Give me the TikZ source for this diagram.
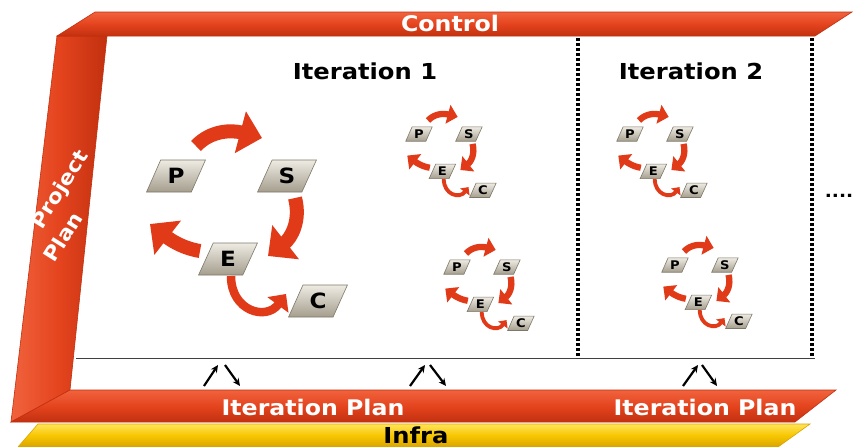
\documentclass[tikz,border=0pt]{standalone}
\usepackage{fontspec}
\setmainfont{DejaVu Sans}[FakeStretch=1.1]
\usetikzlibrary{shapes.geometric,arrows.meta}
\definecolor{barred}{HTML}{E4441E}
\definecolor{barlight}{HTML}{F0633D}
\definecolor{bardark}{HTML}{C2300F}
\definecolor{arrred}{HTML}{E03A18}
\definecolor{infrayel}{HTML}{F7C600}
\definecolor{infralight}{HTML}{FFE45A}
\definecolor{infradark}{HTML}{D9A400}
\definecolor{boxtop}{HTML}{EEEBE3}
\definecolor{boxbot}{HTML}{A59E8E}
\definecolor{boxedge}{HTML}{7E7868}
\newcommand\letterfs{21}
\tikzset{
 blk/.style={trapezium, trapezium left angle=63, trapezium right angle=117,
   trapezium stretches=true, minimum width=59pt, minimum height=32pt, inner sep=0pt,
   top color=boxtop, bottom color=boxbot, draw=boxedge, line width=0.6pt,
   font=\fontsize{\letterfs}{\letterfs}\selectfont\bfseries, text=black},
 cyc/.style={draw=arrred, -{Triangle[width=0pt 3, length=0pt 1.6]}},
 bartext/.style={text=white, font=\fontsize{21.5}{24}\selectfont\bfseries, inner sep=0pt},
 ptext/.style={text=white, font=\fontsize{20}{24}\selectfont\bfseries, inner sep=0pt, rotate=58},
 titletext/.style={text=black, font=\fontsize{22}{24}\selectfont\bfseries, inner sep=0pt},
 dotline/.style={draw=black, line width=3.5pt, dash pattern=on 3pt off 2pt},
 sarr/.style={draw=black, line width=2.2pt, -{Stealth[length=7.5pt, width=7pt]}},
}
\newcommand\PSECcycle[4]{%
\begin{scope}[shift={(#2,#3)}, scale=#4, transform shape]
 \pgfmathsetlengthmacro\lwA{14*#4}
 \pgfmathsetlengthmacro\lwB{8.5*#4}
 \pgfmathsetmacro\letterfs{21+(1-#4)*10}
 \coordinate (#1a1) at (20,-30);  \coordinate (#1a2) at (86,-38);
 \coordinate (#1b1) at (119,22);  \coordinate (#1b2) at (92,80);
 \coordinate (#1c1) at (24,75);   \coordinate (#1c2) at (-26,48);
 \coordinate (#1d1) at (55,100);  \coordinate (#1d2) at (110,118);
 \draw[cyc, line width=\lwA] (#1a1) .. controls (35,-46) and (56,-46) .. (#1a2);
 \draw[cyc, line width=\lwA] (#1b1) .. controls (125,45) and (115,62) .. (#1b2);
 \draw[cyc, line width=\lwA] (#1c1) .. controls (5,72) and (-8,62) .. (#1c2);
 \draw[cyc, line width=\lwB] (#1d1) .. controls (55,135) and (90,145) .. (#1d2);
 \node[blk] (#1P) at (0,0) {P};
 \node[blk] (#1S) at (111,0) {S};
 \node[blk] (#1E) at (52,83) {E};
 \node[blk] (#1C) at (142,125) {C};
\end{scope}}
\begin{document}
\begin{tikzpicture}[x=1pt,y=-1pt]
\useasboundingbox[fill=white] (0,0) rectangle (855,447);
% Infra bar
\path[draw=infradark, line width=0.6pt, top color=infralight, bottom color=infradark, middle color=infrayel]
  (38,424) -- (810,424) -- (778,447) -- (18,447) -- cycle;
% Project plan (vertical) + iteration plan (horizontal) bar
\path[draw=bardark, line width=0.6pt, left color=barlight, right color=bardark, middle color=barred]
  (57,36) -- (107,36) -- (70,390) -- (11,422) -- cycle;
\path[draw=bardark, line width=0.6pt, top color=barlight, bottom color=bardark, middle color=barred]
  (70,390) -- (836,390) -- (795,422) -- (11,422) -- cycle;
% Control bar
\path[draw=bardark, line width=0.6pt, top color=barlight, bottom color=bardark, middle color=barred]
  (95,12) -- (852,12) -- (815,36) -- (57,36) -- cycle;
% panel lines
\draw[black!75, line width=0.8pt] (76,358) -- (815,358);
\draw[dotline] (578,38) -- (578,358);
\draw[dotline] (812,38) -- (812,358);
% texts
\node[bartext] (ctl) at (450,23) {Control};
\node[bartext] (ip1) at (313,407) {Iteration Plan};
\node[bartext] (ip2) at (705,407) {Iteration Plan};
\node[titletext] (infra) at (416,435) {Infra};
\node[ptext] (pp1) at (61,190) {Project};
\node[ptext] (pp2) at (63,237) {Plan};
\node[titletext] (it1) at (365,71) {Iteration 1};
\node[titletext] (it2) at (691,71) {Iteration 2};
\node[inner sep=0pt, font=\fontsize{17}{17}\selectfont\bfseries] (dots) at (839,195.5) {....};
% cycles
\PSECcycle{A}{176}{176}{1}
\PSECcycle{B}{419}{134}{0.45}
\PSECcycle{D}{457}{267}{0.45}
\PSECcycle{F}{630}{134}{0.45}
\PSECcycle{G}{675}{265}{0.45}
% small up/down arrows
\coordinate (u1a) at (204,386); \coordinate (u1b) at (218,365);
\coordinate (d1a) at (225,365); \coordinate (d1b) at (240,386);
\coordinate (u2a) at (410,386); \coordinate (u2b) at (425,365);
\coordinate (d2a) at (430,365); \coordinate (d2b) at (446,386);
\coordinate (u3a) at (683,386); \coordinate (u3b) at (698,365);
\coordinate (d3a) at (702,365); \coordinate (d3b) at (717,386);
\draw[sarr] (u1a) -- (u1b); \draw[sarr] (d1a) -- (d1b);
\draw[sarr] (u2a) -- (u2b); \draw[sarr] (d2a) -- (d2b);
\draw[sarr] (u3a) -- (u3b); \draw[sarr] (d3a) -- (d3b);
\end{tikzpicture}
\end{document}
